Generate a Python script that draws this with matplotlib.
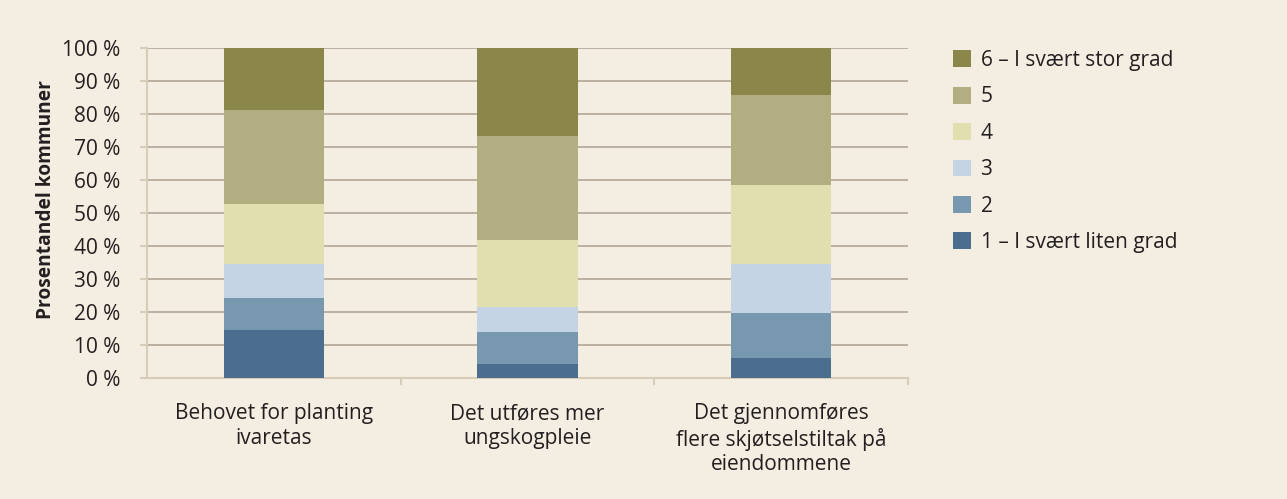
import matplotlib.pyplot as plt
from matplotlib.patches import Patch

plt.rcParams['font.family'] = ['Open Sans', 'DejaVu Sans']

categories = ['Behovet for planting\nivaretas',
              'Det utføres mer\nungskogpleie',
              'Det gjennomføres\nflere skjøtselstiltak på\neiendommene']
levels = ['1 – I svært liten grad', '2', '3', '4', '5', '6 – I svært stor grad']
values = [
    [14.7, 4.4, 6.3],    # 1
    [9.7, 9.7, 13.5],    # 2
    [10.3, 7.6, 14.9],   # 3
    [18.1, 20.2, 23.9],  # 4
    [28.5, 31.6, 27.3],  # 5
    [18.7, 26.5, 14.1],  # 6
]
colors = ['#4b6e8e', '#7898b0', '#c4d4e4', '#e1dfb0', '#b3ad82', '#8b874b']
yticks = [0, 10, 20, 30, 40, 50, 60, 70, 80, 90, 100]

bg = '#f4eee2'
txt = '#231f20'
fs = 15

fig = plt.figure(figsize=(12.87, 4.99), dpi=100, facecolor=bg)
ax = fig.add_axes([0.1142, 0.2415, 0.5913, 0.6617], facecolor=bg)

x = range(len(categories))
bottom = [0] * len(categories)
for vals, col in zip(values, colors):
    ax.bar(x, vals, width=0.395, bottom=bottom, color=col, zorder=3)
    bottom = [b + v for b, v in zip(bottom, vals)]

ax.set_xlim(-0.5, 2.5)
ax.set_ylim(0, 100)
ax.set_yticks(yticks)
ax.set_yticklabels([f'{t} %' for t in yticks], fontsize=fs, color=txt)
ax.yaxis.grid(True, color='#b3a596', linewidth=1.2, zorder=0)
ax.set_axisbelow(True)

ax.set_xticks([0.5, 1.5, 2.5], minor=False)
ax.set_xticklabels([])
ax.set_xticks(list(x), minor=True)
ax.set_xticklabels(categories, minor=True, fontsize=fs, color=txt, linespacing=1.2)
ax.tick_params(axis='x', which='minor', length=0, pad=18)
ax.tick_params(axis='x', which='major', length=5, color='#d6ccb8', width=1.5)
ax.tick_params(axis='y', length=5, color='#d6ccb8', width=1.5, pad=14)

for s in ['top', 'right']:
    ax.spines[s].set_visible(False)
for s in ['left', 'bottom']:
    ax.spines[s].set_color('#d6ccb8')
    ax.spines[s].set_linewidth(1.5)

ax.set_ylabel('Prosentandel kommuner', fontsize=13.8, fontweight='bold', color=txt)
ax.yaxis.set_label_coords(-0.119, 0.541)

handles = [Patch(facecolor=c, edgecolor='none') for c in colors][::-1]
fig.legend(handles, levels[::-1], loc='upper left',
           bbox_to_anchor=(953 / 1287, 1 - 50 / 499),
           frameon=False, fontsize=fs, labelcolor=txt,
           handlelength=0.87, handleheight=0.87, handletextpad=0.45,
           labelspacing=0.74, borderpad=0, borderaxespad=0)

fig.savefig('out.png', dpi=100, facecolor=bg)
